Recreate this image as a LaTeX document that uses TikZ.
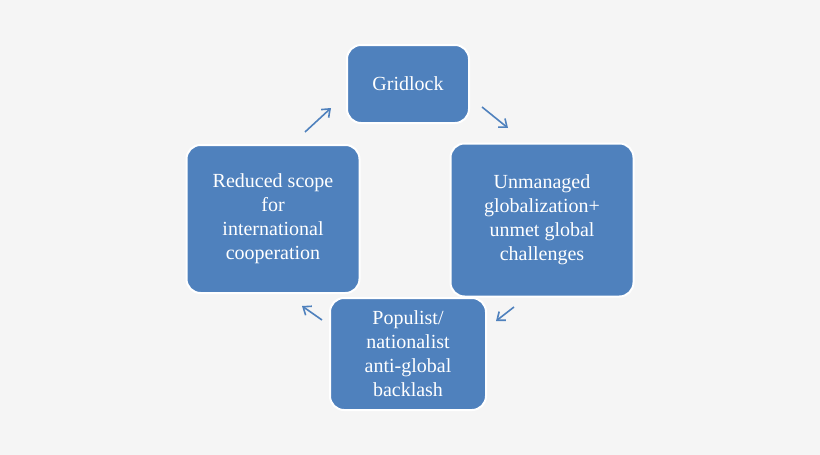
\documentclass[tikz,border=0pt]{standalone}
\usepackage{fontspec}
\setmainfont{Liberation Serif}
\usetikzlibrary{arrows.meta}
\definecolor{bg}{HTML}{F5F5F5}
\definecolor{boxblue}{HTML}{4F81BD}
\tikzset{
  cyclebox/.style={draw=white, line width=2pt, fill=boxblue, rounded corners=14pt, text=white, align=center, font=\fontsize{20}{24}\selectfont, inner sep=0pt},
  cyclearrow/.style={draw=boxblue, line width=1.6pt, -{Straight Barb[length=7pt,width=11pt,line width=1.6pt]}}
}
\begin{document}
\begin{tikzpicture}[x=1pt,y=-1pt]
\fill[bg] (0,0) rectangle (820,455);
\useasboundingbox (0,0) rectangle (820,455);
\node[cyclebox, minimum width=122, minimum height=78] (g) at (408,84) {Gridlock};
\node[cyclebox, minimum width=183, minimum height=153] (r) at (542,220) {Unmanaged\\globalization+\\unmet global\\challenges};
\node[cyclebox, minimum width=156, minimum height=112] (b) at (408,354) {Populist/\\nationalist\\anti-global\\backlash};
\node[cyclebox, minimum width=173, minimum height=148] (l) at (273,219) {Reduced scope\\for\\international\\cooperation};
\coordinate (a1s) at (305,132); \coordinate (a1e) at (331,108);
\coordinate (a2s) at (482,107); \coordinate (a2e) at (508,128);
\coordinate (a3s) at (514,307); \coordinate (a3e) at (496,321);
\coordinate (a4s) at (322,320); \coordinate (a4e) at (302,306);
\draw[cyclearrow] (a1s) -- (a1e);
\draw[cyclearrow] (a2s) -- (a2e);
\draw[cyclearrow] (a3s) -- (a3e);
\draw[cyclearrow] (a4s) -- (a4e);
\end{tikzpicture}
\end{document}
